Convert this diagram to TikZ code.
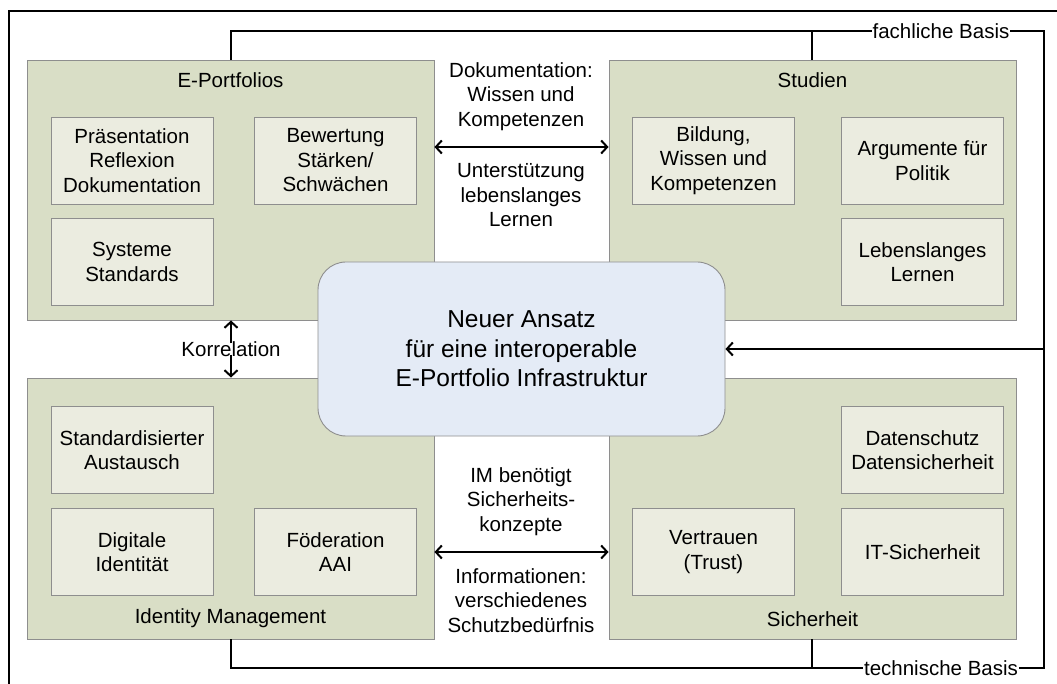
\documentclass[tikz,border=0pt]{standalone}
\usepackage{fontspec}
\setmainfont{Liberation Sans}
\usetikzlibrary{arrows.meta}
\definecolor{grpfill}{HTML}{D9DEC6}
\definecolor{inrfill}{HTML}{EBECE0}
\definecolor{bordergray}{HTML}{8E8E8E}
\definecolor{ctrfill}{HTML}{E4EBF6}
\tikzset{
  txt/.style={font=\fontsize{20.5}{24.5}\selectfont, align=center, inner sep=0pt},
  group/.style={draw=bordergray, line width=0.9pt, fill=grpfill, minimum width=407pt, minimum height=260pt, inner sep=0pt},
  inner/.style={txt, draw=bordergray, line width=0.9pt, fill=inrfill, minimum width=162pt, minimum height=87pt},
  center/.style={font=\fontsize{24.5}{29.5}\selectfont, align=center, draw=bordergray, line width=0.9pt, fill=ctrfill, rounded corners=28pt, minimum width=407pt, minimum height=174pt},
  conn/.style={line width=2pt, black},
  arr/.style={line width=2pt, black, -{Straight Barb[length=6pt, width=13pt, line width=2pt]}},
  darr/.style={line width=2pt, black, {Straight Barb[length=6pt, width=13pt, line width=2pt]}-{Straight Barb[length=6pt, width=13pt, line width=2pt]}},
  lbl/.style={txt, fill=white, inner xsep=1pt}
}
\begin{document}
\begin{tikzpicture}[x=1pt, y=-1pt]
\useasboundingbox (0,0) rectangle (1057,684);
% outer frame (clipped)
\coordinate (fBL) at (9,684);
\coordinate (fTL) at (9,11);
\coordinate (fTR) at (1057,11);
\draw[conn] (fBL) -- (fTL) -- (fTR);

% group boxes
\node[group] (EP) at (230.5,190) {};
\node[group] (ST) at (812.5,190) {};
\node[group, minimum height=261pt] (IM) at (230.5,508.5) {};
\node[group, minimum height=261pt] (SI) at (812.5,508.5) {};

% titles
\node[txt] (tEP) at (230.5,80) {E-Portfolios};
\node[txt] (tST) at (812.5,80) {Studien};
\node[txt] (tIM) at (230.5,618) {Identity Management};
\node[txt] (tSI) at (812.5,619) {Sicherheit};

% inner boxes
\node[inner] (pr) at (132,160.5) {Präsentation\\Reflexion\\Dokumentation};
\node[inner] (bw) at (335.5,160.5) {Bewertung\\Stärken/\\Schwächen};
\node[inner] (sy) at (132,262) {Systeme\\Standards};
\node[inner] (bi) at (713.5,160.5) {Bildung,\\Wissen und\\Kompetenzen};
\node[inner] (ar) at (922.5,160.5) {Argumente für\\Politik};
\node[inner] (le) at (922.5,262) {Lebenslanges\\Lernen};
\node[inner] (sa) at (132,450) {Standardisierter\\Austausch};
\node[inner] (di) at (132,552) {Digitale\\Identität};
\node[inner] (fo) at (335.5,552) {Föderation\\AAI};
\node[inner] (da) at (922.5,450) {Datenschutz\\Datensicherheit};
\node[inner] (ve) at (713.5,552) {Vertrauen\\(Trust)};
\node[inner] (it) at (922.5,552) {IT-Sicherheit};

% center
\node[center] (C) at (521.5,349) {Neuer Ansatz\\für eine interoperable\\E-Portfolio Infrastruktur};

% basis connectors
\coordinate (tL) at (231,31);
\coordinate (tR) at (1044,31);
\coordinate (bR) at (1044,668);
\coordinate (bL) at (231,668);
\coordinate (tS) at (812,31);
\coordinate (bS) at (812,668);
\coordinate (mR) at (1044,349);
\draw[conn] (EP.north -| tL) -- (tL) -- (tR) -- (bR) -- (bL) -- (IM.south -| bL);
\draw[conn] (tS) -- (ST.north -| tS);
\draw[conn] (bS) -- (SI.south -| bS);
\node[lbl] (fb) at (941,31) {fachliche Basis};
\node[lbl] (tb) at (941,668) {technische Basis};
\draw[arr] (mR) -- (C.east);

% Korrelation
\node[txt] (korr) at (231,349) {Korrelation};
\draw[arr, line width=1.6pt] ([yshift=-2pt]korr.north) -- (EP.south -| korr);
\draw[arr, line width=1.6pt] ([yshift=2pt]korr.south) -- (IM.north -| korr);

% middle arrows and texts
\coordinate (ay1) at (521,147);
\coordinate (ay2) at (521,552);
\draw[darr] (ay1 -| EP.east) -- (ay1 -| ST.west);
\draw[darr] (ay2 -| IM.east) -- (ay2 -| SI.west);
\node[txt] (d1) at (521,96.5) {Dokumentation:\\Wissen und\\Kompetenzen};
\node[txt] (d2) at (521,195.5) {Unterstützung\\lebenslanges\\Lernen};
\node[txt] (d3) at (521,501.5) {IM benötigt\\Sicherheits-\\konzepte};
\node[txt] (d4) at (521,600.5) {Informationen:\\verschiedenes\\Schutzbedürfnis};
\end{tikzpicture}
\end{document}
